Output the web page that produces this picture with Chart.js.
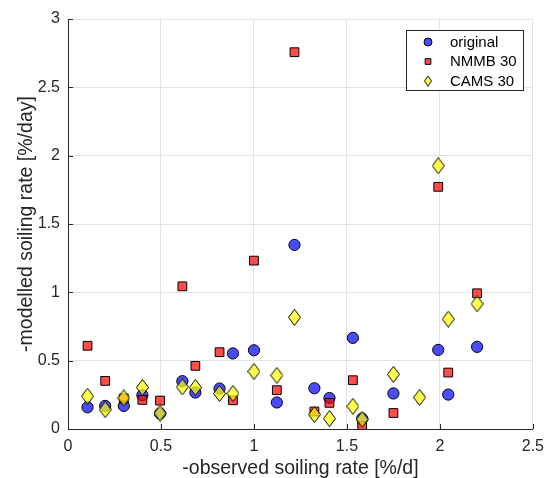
<!DOCTYPE html>
<html>
<head>
<meta charset="utf-8">
<script src="https://cdn.jsdelivr.net/npm/chart.js@4.4.1/dist/chart.umd.min.js"></script>
<style>
  html, body { margin: 0; padding: 0; background: #fff; }
  #wrap { width: 552px; height: 478px; position: relative; }
</style>
</head>
<body>
<div id="wrap"><canvas id="c" width="552" height="478"></canvas></div>
<script>
// ---- data ----
const observed = [0.105, 0.2, 0.3, 0.4, 0.495, 0.615, 0.685, 0.815, 0.887, 1.0, 1.123, 1.218, 1.325, 1.406, 1.532, 1.582, 1.75, 1.891, 1.991, 2.045, 2.2];
const original = [0.159, 0.169, 0.169, 0.247, 0.113, 0.350, 0.267, 0.296, 0.553, 0.576, 0.194, 1.347, 0.298, 0.227, 0.667, 0.076, 0.260, null, 0.579, 0.252, 0.601];
const nmmb30   = [0.609, 0.352, 0.223, 0.213, 0.208, 1.044, 0.462, 0.562, 0.210, 1.232, 0.284, 2.757, 0.128, 0.191, 0.357, 0.022, 0.117, null, 1.772, 0.413, 0.993];
const cams30   = [0.240, 0.142, 0.227, 0.304, 0.115, 0.308, 0.304, 0.260, 0.260, 0.421, 0.392, 0.817, 0.106, 0.076, 0.166, 0.071, 0.400, 0.231, 1.926, 0.804, 0.916];
const seriesNames = ['original', 'NMMB 30', 'CAMS 30'];
const xTicks = [0, 0.5, 1, 1.5, 2, 2.5];
const yTicks = [0, 0.5, 1, 1.5, 2, 2.5, 3];
const xTitle = '-observed soiling rate [%/d]';
const yTitle = '-modelled soiling rate [%/day]';

const FONT = '"Liberation Sans", Arial, Helvetica, sans-serif';
const AX = '#262626';
const GRID = '#e3e3e3';

function toPoints(ys) {
  const pts = [];
  ys.forEach((y, i) => { if (y !== null) pts.push({ x: observed[i], y: y }); });
  return pts;
}

function diamondCanvas(w, h, fill) {
  const c = document.createElement('canvas');
  c.width = w; c.height = h;
  const g = c.getContext('2d');
  g.beginPath();
  g.moveTo(w / 2, 0.5);
  g.lineTo(w - 0.5, h / 2);
  g.lineTo(w / 2, h - 0.5);
  g.lineTo(0.5, h / 2);
  g.closePath();
  g.fillStyle = fill;
  g.fill();
  g.lineWidth = 1;
  g.strokeStyle = '#000';
  g.stroke();
  return c;
}

const BLUE = 'rgba(0,0,255,0.7)';
const RED = 'rgba(255,0,0,0.7)';
const YEL = 'rgba(255,255,0,0.7)';
const diamondBig = diamondCanvas(13, 17, YEL);
const diamondSmall = diamondCanvas(8, 11, YEL);

const legendStyles = [
  { pointStyle: 'circle', radius: 4, bg: BLUE },
  { pointStyle: 'rect', radius: 4, bg: RED },
  { pointStyle: diamondSmall, radius: 4, bg: YEL }
];

const insideTicks = {
  id: 'insideTicks',
  beforeDatasetsDraw(chart) {
    const ctx = chart.ctx;
    const a = chart.chartArea;
    const xs = chart.scales.x, ys = chart.scales.y;
    ctx.save();
    ctx.strokeStyle = AX;
    ctx.lineWidth = 1;
    ctx.beginPath();
    xTicks.forEach(v => {
      const px = Math.round(xs.getPixelForValue(v)) + 0.5;
      ctx.moveTo(px, a.bottom); ctx.lineTo(px, a.bottom - 5);
    });
    yTicks.forEach(v => {
      const py = Math.round(ys.getPixelForValue(v)) + 0.5;
      ctx.moveTo(a.left, py); ctx.lineTo(a.left + 5, py);
    });
    ctx.stroke();
    ctx.restore();
  }
};

const legendBox = {
  id: 'legendBox',
  afterDraw(chart) {
    const ctx = chart.ctx;
    const bx = 406.5, by = 30.5, bw = 117, bh = 60;
    ctx.save();
    ctx.fillStyle = '#fff';
    ctx.fillRect(bx, by, bw, bh);
    ctx.strokeStyle = AX;
    ctx.lineWidth = 1;
    ctx.strokeRect(bx, by, bw, bh);
    ctx.font = '15px ' + FONT;
    ctx.textBaseline = 'middle';
    ctx.textAlign = 'left';
    chart.data.datasets.forEach((ds, i) => {
      const cy = by + 11.5 + i * 19.5;
      const st = legendStyles[i];
      ctx.fillStyle = st.bg;
      ctx.strokeStyle = '#000';
      ctx.lineWidth = 1;
      Chart.helpers.drawPoint(ctx, { pointStyle: st.pointStyle, radius: st.radius, borderWidth: 1, rotation: 0 }, 428, cy);
      ctx.fillStyle = '#000';
      ctx.fillText(ds.label, 450, cy + 0.5);
    });
    ctx.restore();
  }
};

new Chart(document.getElementById('c'), {
  type: 'scatter',
  data: {
    datasets: [
      { label: seriesNames[0], data: toPoints(original), pointStyle: 'circle', pointRadius: 5.6, pointHoverRadius: 5.6,
        backgroundColor: BLUE, borderColor: '#000', borderWidth: 1, order: 3 },
      { label: seriesNames[1], data: toPoints(nmmb30), pointStyle: 'rect', pointRadius: 6.2, pointHoverRadius: 6.2,
        backgroundColor: RED, borderColor: '#000', borderWidth: 1, order: 2 },
      { label: seriesNames[2], data: toPoints(cams30), pointStyle: diamondBig, pointRadius: 7, pointHoverRadius: 7,
        backgroundColor: YEL, borderColor: '#000', borderWidth: 1, order: 1 }
    ]
  },
  options: {
    responsive: false,
    animation: false,
    events: [],
    layout: { padding: { left: 0, right: 15, top: 19, bottom: 0 } },
    plugins: { legend: { display: false }, tooltip: { enabled: false }, title: { display: false } },
    scales: {
      x: {
        type: 'linear', min: 0, max: 2.5,
        afterFit: s => { s.height = 49; },
        afterBuildTicks: s => { s.ticks = xTicks.map(v => ({ value: v })); },
        ticks: { color: AX, font: { family: FONT, size: 16 }, padding: 8, maxRotation: 0,
                 callback: v => String(v) },
        grid: { color: GRID, lineWidth: 1, drawTicks: false },
        border: { display: true, color: AX, width: 1 },
        title: { display: true, text: xTitle, color: AX, font: { family: FONT, size: 19.5, lineHeight: 1 },
                 padding: { top: 0, bottom: 0 } }
      },
      y: {
        type: 'linear', min: 0, max: 3,
        afterFit: s => { s.width = 68; },
        afterBuildTicks: s => { s.ticks = yTicks.map(v => ({ value: v })); },
        ticks: { color: AX, font: { family: FONT, size: 16 }, padding: 8,
                 callback: v => String(v) },
        grid: { color: GRID, lineWidth: 1, drawTicks: false },
        border: { display: true, color: AX, width: 1 },
        title: { display: true, text: yTitle, color: AX, font: { family: FONT, size: 19.5, lineHeight: 1 },
                 padding: { top: 17, bottom: 0 } }
      }
    }
  },
  plugins: [insideTicks, legendBox]
});
</script>
</body>
</html>
